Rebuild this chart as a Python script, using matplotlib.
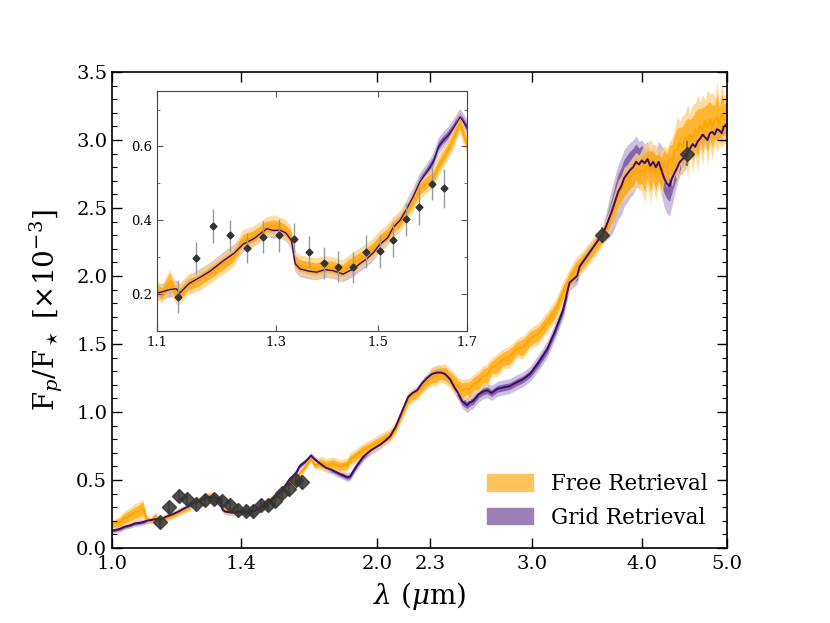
import numpy as np
import matplotlib
matplotlib.use("Agg")
import matplotlib.pyplot as plt
from matplotlib.ticker import FixedLocator, NullLocator, MultipleLocator, FormatStrFormatter
import matplotlib.patches as mpatches

plt.rcParams['font.family'] = 'DejaVu Serif'
plt.rcParams['mathtext.fontset'] = 'dejavuserif'

# model wavelength grid (micron)
wl = [1.000, 1.020, 1.034, 1.050, 1.061, 1.075, 1.084, 1.095, 1.108, 1.120,
      1.130, 1.135, 1.150, 1.168, 1.185, 1.207, 1.225, 1.241, 1.260, 1.283,
      1.295, 1.307, 1.318, 1.328, 1.335, 1.344, 1.360, 1.376, 1.392, 1.408,
      1.428, 1.449, 1.462, 1.476, 1.490, 1.504, 1.520, 1.532, 1.547, 1.561,
      1.576, 1.591, 1.606, 1.621, 1.633, 1.644, 1.655, 1.667, 1.683, 1.699,
      1.724, 1.750, 1.783, 1.815, 1.850, 1.864, 1.895, 1.929, 1.970, 2.017,
      2.045, 2.070, 2.100, 2.125, 2.150, 2.170, 2.195, 2.222, 2.250, 2.280,
      2.310, 2.341, 2.365, 2.390, 2.422, 2.450, 2.473, 2.500, 2.532, 2.550,
      2.572, 2.610, 2.640, 2.668, 2.700, 2.740, 2.782, 2.830, 2.886, 2.930,
      2.986, 3.050, 3.122, 3.190, 3.255, 3.310, 3.377, 3.400, 3.460, 3.520,
      3.610, 3.640, 3.670, 3.700, 3.730, 3.760, 3.790, 3.820, 3.850, 3.880,
      3.910, 3.940, 3.970, 4.000, 4.030, 4.060, 4.090, 4.120, 4.150, 4.180,
      4.210, 4.240, 4.270, 4.300, 4.330, 4.360, 4.390, 4.420, 4.450, 4.480,
      4.510, 4.540, 4.570, 4.600, 4.630, 4.660, 4.690, 4.720, 4.750, 4.780,
      4.810, 4.840, 4.870, 4.900, 4.930, 4.960, 5.000]

# grid retrieval: median and 1/2 sigma half widths
grid_med = [0.127, 0.140, 0.157, 0.168, 0.180, 0.185, 0.190, 0.200, 0.206, 0.212,
            0.214, 0.202, 0.228, 0.245, 0.262, 0.290, 0.310, 0.335, 0.350, 0.377,
            0.372, 0.373, 0.365, 0.345, 0.282, 0.268, 0.262, 0.259, 0.266, 0.263,
            0.254, 0.268, 0.282, 0.295, 0.312, 0.335, 0.352, 0.380, 0.400, 0.430,
            0.465, 0.505, 0.530, 0.559, 0.600, 0.617, 0.630, 0.649, 0.680, 0.653,
            0.620, 0.590, 0.570, 0.545, 0.520, 0.525, 0.600, 0.670, 0.720, 0.760,
            0.790, 0.820, 0.890, 0.970, 1.050, 1.110, 1.140, 1.160, 1.210, 1.250,
            1.280, 1.290, 1.290, 1.280, 1.240, 1.180, 1.140, 1.080, 1.050, 1.070,
            1.080, 1.130, 1.150, 1.160, 1.140, 1.170, 1.180, 1.190, 1.220, 1.240,
            1.280, 1.360, 1.460, 1.600, 1.750, 1.950, 2.000, 2.070, 2.140, 2.210,
            2.310, 2.360, 2.420, 2.480, 2.550, 2.620, 2.660, 2.720, 2.750, 2.780,
            2.800, 2.840, 2.820, 2.850, 2.830, 2.860, 2.810, 2.840, 2.800, 2.840,
            2.780, 2.720, 2.680, 2.660, 2.720, 2.760, 2.800, 2.840, 2.860, 2.880,
            2.910, 2.940, 2.970, 2.950, 2.990, 3.010, 3.040, 3.020, 3.000, 3.050,
            3.060, 3.040, 3.080, 3.070, 3.050, 3.100, 3.120]
grid_s1 = [0.010] * 50 + [0.015] * 20 + [0.030] * 8 + [0.025] * 13 + [0.030] * 10 + \
          [0.060, 0.080, 0.100, 0.120, 0.130, 0.140, 0.140, 0.140, 0.140, 0.140,
           0.130, 0.120, 0.110, 0.100, 0.090, 0.090, 0.080, 0.080, 0.090, 0.100,
           0.110, 0.110, 0.110, 0.100, 0.080, 0.070] + [0.060] * 3 + [0.050] * 17
grid_s2 = [0.022] * 50 + [0.030] * 20 + [0.050] * 8 + [0.055] * 13 + [0.060] * 10 + \
          [0.100, 0.140, 0.170, 0.190, 0.200, 0.210, 0.210, 0.210, 0.200, 0.200,
           0.190, 0.170, 0.150, 0.140, 0.130, 0.120, 0.120, 0.130, 0.150, 0.180,
           0.210, 0.220, 0.220, 0.200, 0.150, 0.120] + [0.100] * 3 + [0.080] * 17

# free retrieval
free_med = [0.170, 0.190, 0.220, 0.240, 0.260, 0.275, 0.290, 0.215, 0.200, 0.235,
            0.200, 0.198, 0.225, 0.236, 0.255, 0.280, 0.300, 0.345, 0.355, 0.380,
            0.385, 0.380, 0.372, 0.355, 0.290, 0.277, 0.272, 0.268, 0.275, 0.272,
            0.263, 0.286, 0.295, 0.308, 0.322, 0.344, 0.360, 0.380, 0.395, 0.420,
            0.450, 0.483, 0.500, 0.514, 0.545, 0.568, 0.590, 0.618, 0.662, 0.608,
            0.625, 0.610, 0.620, 0.600, 0.610, 0.650, 0.680, 0.720, 0.750, 0.790,
            0.810, 0.830, 0.880, 0.960, 1.030, 1.090, 1.120, 1.140, 1.180, 1.220,
            1.260, 1.270, 1.285, 1.280, 1.250, 1.210, 1.190, 1.160, 1.175, 1.165,
            1.205, 1.225, 1.265, 1.270, 1.330, 1.345, 1.390, 1.405, 1.470, 1.475,
            1.540, 1.575, 1.660, 1.745, 1.880, 1.975, 2.070, 2.080, 2.140, 2.200,
            2.300, 2.340, 2.400, 2.460, 2.530, 2.590, 2.630, 2.680, 2.700, 2.730,
            2.750, 2.790, 2.760, 2.780, 2.760, 2.820, 2.770, 2.810, 2.760, 2.800,
            2.750, 2.830, 2.790, 2.860, 2.840, 2.920, 2.930, 2.980, 2.950, 3.020,
            2.990, 3.040, 3.010, 3.080, 3.050, 3.110, 3.070, 3.140, 3.090, 3.150,
            3.100, 3.140, 3.170, 3.120, 3.190, 3.150, 3.160]
free_s1 = [0.020, 0.030, 0.035, 0.040, 0.040, 0.045, 0.050, 0.015, 0.015, 0.020] + \
          [0.015] * 40 + [0.030] * 20 + \
          [0.045, 0.050, 0.040, 0.050, 0.045, 0.055, 0.040, 0.055, 0.045, 0.060,
           0.045, 0.055, 0.050, 0.060, 0.045, 0.060, 0.050, 0.055, 0.045, 0.060,
           0.050] + [0.050] * 10 + \
          [0.050, 0.050, 0.060, 0.060, 0.070, 0.070, 0.080, 0.080, 0.080, 0.090,
           0.080, 0.090, 0.100, 0.140, 0.100, 0.150, 0.110, 0.130, 0.090, 0.120,
           0.100, 0.110, 0.100, 0.130, 0.120, 0.160, 0.110, 0.150, 0.120, 0.170,
           0.110, 0.160, 0.130, 0.180, 0.120, 0.170, 0.110, 0.180, 0.130, 0.160,
           0.120, 0.170, 0.110, 0.150, 0.120, 0.120]
free_s2 = [0.030, 0.045, 0.055, 0.060, 0.065, 0.070, 0.070, 0.025, 0.025, 0.030] + \
          [0.028] * 40 + [0.050] * 20 + \
          [0.070, 0.075, 0.065, 0.075, 0.070, 0.080, 0.065, 0.080, 0.070, 0.085,
           0.070, 0.080, 0.075, 0.085, 0.070, 0.085, 0.075, 0.080, 0.070, 0.085,
           0.075] + [0.080] * 10 + \
          [0.080, 0.080, 0.090, 0.100, 0.110, 0.110, 0.120, 0.120, 0.120, 0.130,
           0.120, 0.130, 0.150, 0.220, 0.150, 0.240, 0.160, 0.200, 0.130, 0.170,
           0.130, 0.140, 0.130, 0.180, 0.170, 0.240, 0.160, 0.230, 0.180, 0.270,
           0.160, 0.250, 0.190, 0.280, 0.170, 0.260, 0.160, 0.280, 0.190, 0.250,
           0.170, 0.260, 0.160, 0.240, 0.180, 0.180]

# observations: WFC3 bins + Spitzer 3.6 / 4.5
obs_wl = [1.133, 1.1615, 1.190, 1.218, 1.247, 1.2755, 1.305, 1.333, 1.361, 1.390,
          1.418, 1.447, 1.475, 1.503, 1.531, 1.560, 1.588, 1.618, 1.645, 3.6, 4.5]
obs_fp = [0.193, 0.298, 0.384, 0.359, 0.325, 0.355, 0.359, 0.348, 0.314, 0.283,
          0.274, 0.272, 0.314, 0.316, 0.346, 0.402, 0.436, 0.499, 0.486, 2.30, 2.90]
obs_err = [0.045, 0.043, 0.045, 0.042, 0.040, 0.043, 0.045, 0.043, 0.042, 0.043,
           0.042, 0.043, 0.045, 0.045, 0.045, 0.045, 0.050, 0.045, 0.052, 0.06, 0.09]

wl = np.array(wl)
gm, g1, g2 = np.array(grid_med), np.array(grid_s1), np.array(grid_s2)
fm, f1, f2 = np.array(free_med), np.array(free_s1), np.array(free_s2)

orange = '#ffa500'
orange_lt = '#ffd48a'
purple = '#3c0c68'
purple_md = '#7e5ca8'
purple_lt = '#c8b8dc'


def draw_models(ax, lw):
    ax.fill_between(wl, gm - g2, gm + g2, color=purple_lt, lw=0, alpha=0.9)
    ax.fill_between(wl, gm - g1, gm + g1, color=purple_md, lw=0, alpha=0.9)
    ax.fill_between(wl, fm - f2, fm + f2, color=orange_lt, lw=0, alpha=0.8)
    ax.fill_between(wl, fm - f1, fm + f1, color=orange, lw=0, alpha=0.7)
    ax.plot(wl, fm, color=orange, lw=lw)
    ax.plot(wl, gm, color=purple, lw=lw)


fig = plt.figure(figsize=(8.3, 6.23), dpi=100)
ax = fig.add_axes([0.135, 0.1204, 0.741, 0.764])
draw_models(ax, 1.4)
ax.errorbar(obs_wl, obs_fp, yerr=obs_err, fmt='D', ms=7, color='#333333',
            ecolor='#555555', elinewidth=1.2, capsize=0, alpha=0.85, zorder=5)
ax.set_xscale('log')
ax.set_xlim(1.0, 5.0)
ax.set_ylim(0, 3.5)
ax.xaxis.set_major_locator(FixedLocator([1.0, 1.4, 2.0, 2.3, 3.0, 4.0, 5.0]))
ax.xaxis.set_minor_locator(NullLocator())
ax.xaxis.set_major_formatter(FormatStrFormatter('%.1f'))
ax.yaxis.set_major_locator(MultipleLocator(0.5))
ax.yaxis.set_minor_locator(MultipleLocator(0.1))
ax.yaxis.set_major_formatter(FormatStrFormatter('%.1f'))
ax.tick_params(which='both', direction='in', top=True, right=True, labelsize=14)
ax.tick_params(which='major', length=7, width=1)
ax.tick_params(which='minor', length=3.5, width=0.8)
ax.tick_params(axis='x', pad=5)
ax.set_xlabel(r'$\lambda$ ($\mu$m)', fontsize=20, labelpad=5)
ax.set_ylabel(r'F$_p$/F$_\star$ [$\times10^{-3}$]', fontsize=20, labelpad=8)
for s in ax.spines.values():
    s.set_linewidth(1.2)

h1 = mpatches.Patch(color='#ffc35f', label='Free Retrieval')
h2 = mpatches.Patch(color='#9c80b5', label='Grid Retrieval')
ax.legend(handles=[h1, h2], loc='lower right', frameon=False, fontsize=15.5,
          handlelength=2.1, handleheight=0.8, handletextpad=0.85, labelspacing=0.55,
          borderaxespad=0.5)

# inset zoom on the WFC3 band
ins = fig.add_axes([0.1895, 0.469, 0.3735, 0.3848])
draw_models(ins, 1.0)
ins.errorbar(obs_wl[:19], obs_fp[:19], yerr=obs_err[:19], fmt='D', ms=3.5,
             color='#333333', ecolor='#999999', elinewidth=1.0, capsize=0, zorder=5)
ins.set_xscale('log')
ins.set_xlim(1.1, 1.7)
ins.set_ylim(0.1, 0.75)
ins.xaxis.set_major_locator(FixedLocator([1.1, 1.3, 1.5, 1.7]))
ins.xaxis.set_minor_locator(NullLocator())
ins.xaxis.set_major_formatter(FormatStrFormatter('%.1f'))
ins.yaxis.set_major_locator(FixedLocator([0.2, 0.4, 0.6]))
ins.yaxis.set_minor_locator(MultipleLocator(0.1))
ins.yaxis.set_major_formatter(FormatStrFormatter('%.1f'))
ins.tick_params(which='both', direction='in', top=True, right=True, labelsize=9.5,
                color='#555555')
ins.tick_params(which='major', length=4)
ins.tick_params(which='minor', length=2.5)
for s in ins.spines.values():
    s.set_color('#444444')

fig.savefig('out.png', dpi=100)
